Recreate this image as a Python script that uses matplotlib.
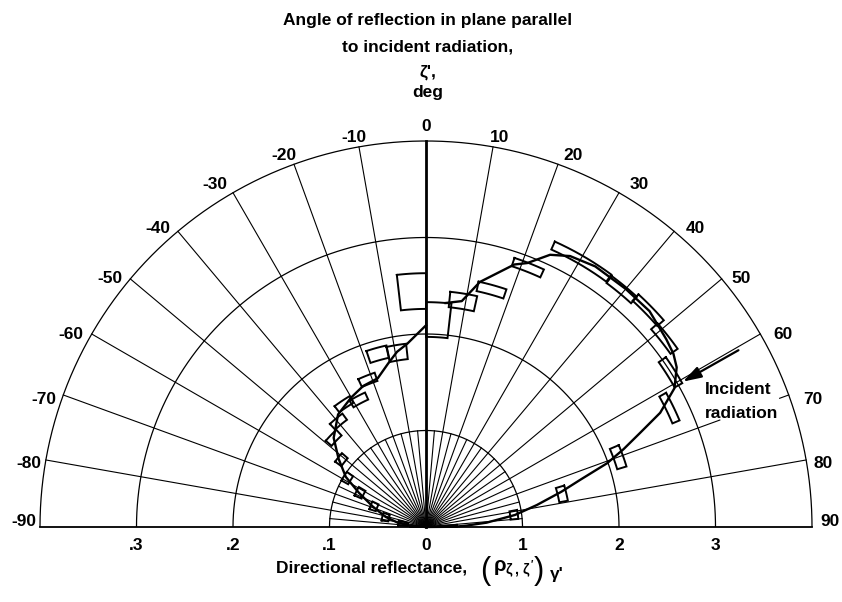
import numpy as np
import matplotlib
matplotlib.use("Agg")
import matplotlib.pyplot as plt
from matplotlib import font_manager

# ---------------- data ----------------
# Angle of reflection zeta' (deg, measured from the normal, + toward incident side)
# Right half: reflectance scale 0-4 ; left half: reflectance scale 0-0.4 (x10)
right_curve_angle = [5, 9, 12.4, 18.6, 21, 24.5, 28, 33, 40, 46, 52, 55, 57.5,
                     60.8, 64, 66.3, 68.5, 70.6, 73, 75.4, 78.8, 82.3, 85.9, 88, 89.5, 90]
right_curve_value = [2.33, 2.37, 2.60, 2.87, 2.93, 3.10, 3.18, 3.22, 3.22, 3.22, 3.16, 3.13, 3.08,
                     2.95, 2.70, 2.42, 2.20, 1.99, 1.67, 1.45, 1.17, 0.93, 0.63, 0.42, 0.30, 0.0]

left_curve_angle = [0, -5.8, -9.4, -13, -18, -24, -30, -38, -46, -52, -58, -63, -69, -76, -81, -86, -90]
left_curve_value = [0.209, 0.191, 0.184, 0.174, 0.162, 0.160, 0.155, 0.148, 0.133, 0.115,
                    0.098, 0.078, 0.059, 0.043, 0.030, 0.015, 0.0]

# data boxes: centre angle, angular half-width, centre value, value half-range
right_box_angle = [88.0, 82.2, 76.4, 70.1, 64.0, 57.7, 51.7, 45.7, 39.5, 30.3, 21.4, 15.4, 9.2, 3.25]
right_box_dang = [2.0, 2.8, 3.1, 3.1, 3.2, 3.0, 3.0, 3.3, 3.0, 6.0, 3.2, 3.3, 3.3, 3.25]
right_box_value = [0.22, 0.92, 1.45, 2.12, 2.81, 3.00, 3.15, 3.22, 3.19, 3.20, 2.89, 2.55, 2.37, 2.15]
right_box_dval = [0.10, 0.04, 0.045, 0.05, 0.04, 0.045, 0.045, 0.045, 0.045, 0.045, 0.045, 0.05, 0.08, 0.18]

left_box_angle = [-3.3, -9.3, -15.5, -21.5, -27.8, -33.7, -39.7, -46.0, -51.5, -58.2, -62.7, -68.5, -76.6, -82.0, -87.0]
left_box_dang = [3.3, 3.1, 3.2, 3.1, 3.4, 3.4, 3.3, 3.3, 2.8, 3.0, 3.5, 4.0, 5.0, 5.0, 3.0]
left_box_value = [0.2445, 0.183, 0.186, 0.164, 0.149, 0.153, 0.142, 0.133, 0.112, 0.096, 0.077, 0.058, 0.043, 0.024, 0.011]
left_box_dval = [0.0185, 0.008, 0.0065, 0.0045, 0.004, 0.004, 0.004, 0.004, 0.004, 0.004, 0.004, 0.0035, 0.0035, 0.005, 0.005]

angle_ticks = [-90, -80, -70, -60, -50, -40, -30, -20, -10, 0, 10, 20, 30, 40, 50, 60, 70, 80, 90]
left_r_ticks = [0.1, 0.2, 0.3]
left_r_labels = [".1", ".2", ".3"]
right_r_ticks = [1, 2, 3]
right_r_labels = ["1", "2", "3"]
incident_angle = 60
LEFT_SCALE = 10.0   # left half magnified 10x
R_MAX = 4.0

# label placement (pixels, relative to the point where the spoke meets the rim)
label_dx = {0: 0, 10: -3, 20: 5, 30: 11, 40: 12, 50: 10, 60: 13, 70: 15, 80: 7, 90: 8,
            -10: 8, -20: 3, -30: -6, -40: -8, -50: -8, -60: -8, -70: -7, -80: -4, -90: -4}
label_dy = {0: -15, 10: -9, 20: -9, 30: -8, 40: -3, 50: 0, 60: 1, 70: 5, 80: 4, 90: -5.5,
            -10: -9, -20: -9, -30: -8, -40: -3, -50: 0, -60: 1, -70: 5, -80: 4, -90: -5.5}


def pick(names):
    for n in names:
        try:
            font_manager.findfont(n, fallback_to_default=False)
            return n
        except Exception:
            pass
    return "DejaVu Sans"


FONT = pick(["Liberation Sans", "Arial", "DejaVu Sans"])
plt.rcParams["font.family"] = [FONT, "DejaVu Sans"]
plt.rcParams["font.weight"] = "bold"
plt.rcParams["mathtext.fontset"] = "custom"
plt.rcParams["mathtext.rm"] = FONT + ":bold"
plt.rcParams["mathtext.it"] = FONT + ":bold"
plt.rcParams["mathtext.bf"] = FONT + ":bold"
FS = 12.5


def pxy(theta_deg, r):
    t = np.radians(np.asarray(theta_deg, dtype=float))
    r = np.asarray(r, dtype=float)
    return r * np.sin(t), r * np.cos(t)


PX = 96.5
OX, OY = 426, 527
fig = plt.figure(figsize=(8.42, 6.02), dpi=100)
ax = fig.add_axes([0, 0, 1, 1])
ax.set_xlim(-OX / PX, (842 - OX) / PX)
ax.set_ylim(-(602 - OY) / PX, OY / PX)
ax.axis("off")


def P(px, py):
    """pixel position (from top-left) -> data coords, for text placement"""
    return (px - OX) / PX, (OY - py) / PX


K = "black"
# circles
th = np.linspace(-90, 90, 500)
for rc in [1, 2, 3, 4]:
    x, y = pxy(th, np.full_like(th, rc))
    ax.plot(x, y, color=K, lw=0.9, solid_capstyle="butt")

# radial lines
for a in range(-90, 91, 5):
    if a % 10 == 0:
        if a == 0:
            x, y = pxy([0, 0], [0, R_MAX])
            ax.plot(x, y, color=K, lw=2.0)
        elif a == 70:
            for seg in ([0, 3.24], [3.9, R_MAX]):
                x, y = pxy([a, a], seg)
                ax.plot(x, y, color=K, lw=0.8)
        elif abs(a) == 90:
            continue
        else:
            x, y = pxy([a, a], [0, R_MAX])
            ax.plot(x, y, color=K, lw=0.8)
    else:
        x, y = pxy([a, a], [0, 1])
        ax.plot(x, y, color=K, lw=0.8)

# baseline
ax.plot([-R_MAX, R_MAX], [0, 0], color=K, lw=1.3)

# curves
x, y = pxy(right_curve_angle, right_curve_value)
ax.plot(x, y, color=K, lw=1.7, solid_joinstyle="round")
x, y = pxy(left_curve_angle, np.array(left_curve_value) * LEFT_SCALE)
ax.plot(x, y, color=K, lw=1.7, solid_joinstyle="round")


# boxes
def draw_box(a, da, v, dv):
    t1 = np.linspace(a - da, a + da, 10)
    t2 = t1[::-1]
    tt = np.concatenate([t1, t2, t1[:1]])
    rr = np.concatenate([np.full(10, v + dv), np.full(10, v - dv), [v + dv]])
    bx, by = pxy(tt, rr)
    ax.plot(bx, by, color=K, lw=1.4, solid_joinstyle="miter")


for a, da, v, dv in zip(right_box_angle, right_box_dang, right_box_value, right_box_dval):
    draw_box(a, da, v, dv)
for a, da, v, dv in zip(left_box_angle, left_box_dang, left_box_value, left_box_dval):
    draw_box(a, da, v * LEFT_SCALE, dv * LEFT_SCALE)

# incident radiation arrow
(x0,), (y0,) = pxy([incident_angle + 0.5], [3.72])
(x1,), (y1,) = pxy([incident_angle + 0.5], [3.06])
ax.annotate("", xy=(x1, y1), xytext=(x0, y0),
            arrowprops=dict(arrowstyle="-|>,head_length=1.1,head_width=0.35", color=K, lw=1.6,
                            shrinkA=0, shrinkB=0))
ax.text(*P(705, 390), "Incident", ha="left", va="center", fontsize=FS)
ax.text(*P(705, 413), "radiation", ha="left", va="center", fontsize=FS)

# angle tick labels
for a in angle_ticks:
    rx, ry = pxy(a, R_MAX)
    px_ = OX + float(rx) * PX + label_dx[a]
    py_ = OY - float(ry) * PX + label_dy[a]
    ha = "center" if a == 0 else ("left" if a > 0 else "right")
    ax.text(*P(px_, py_), f"{a}", ha=ha, va="center", fontsize=FS)

# radial tick labels
ty = P(0, 545)[1]
for v, lab in zip(left_r_ticks, left_r_labels):
    ax.text(-v * LEFT_SCALE, ty, lab, ha="center", va="center", fontsize=FS)
ax.text(0, ty, "0", ha="center", va="center", fontsize=FS)
for v, lab in zip(right_r_ticks, right_r_labels):
    ax.text(v, ty, lab, ha="center", va="center", fontsize=FS)

# axis titles
ax.text(*P(372, 568), "Directional reflectance,", ha="center", va="center", fontsize=FS)
ax.text(*P(485, 571), "(", ha="center", va="center", fontsize=22, fontweight="normal")
ax.text(*P(493, 569), r"$\rho_{\zeta\,,\,\zeta'}$", ha="left", va="center", fontsize=14.5)
ax.text(*P(539, 571), ")", ha="center", va="center", fontsize=22, fontweight="normal")
ax.text(*P(550, 574), "γ'", ha="left", va="center", fontsize=FS)

title_lines = ["Angle of reflection in plane parallel", "to incident radiation,", "ζ',", "deg"]
title_y = [20, 47, 72, 93]
for s, yy in zip(title_lines, title_y):
    ax.text(*P(428, yy), s, ha="center", va="center", fontsize=FS)

fig.savefig("out.png", dpi=100)
